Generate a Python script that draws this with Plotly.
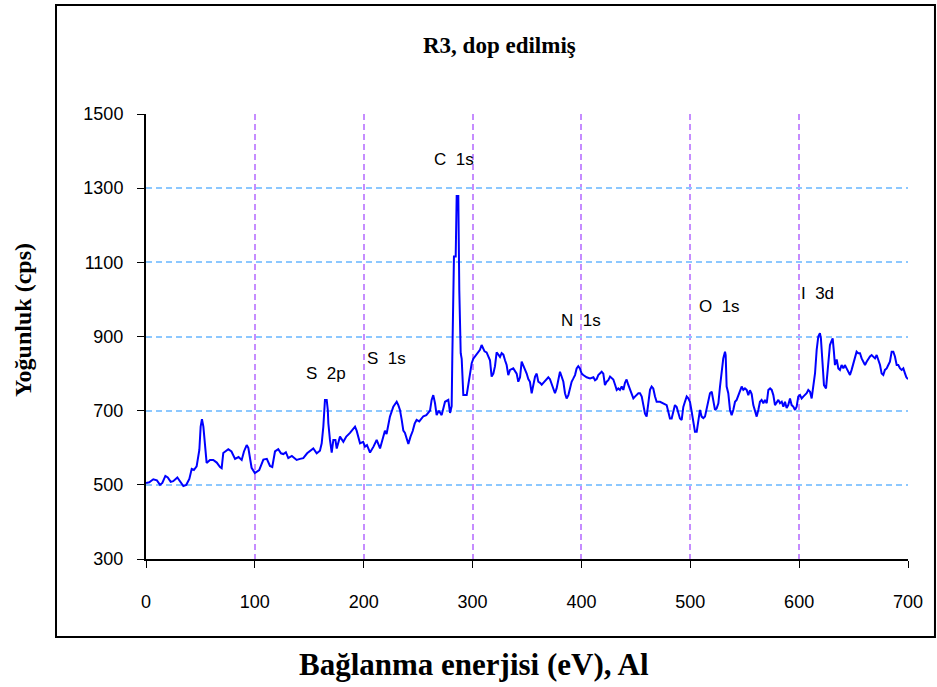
import plotly.graph_objects as go

# XPS survey spectrum: binding energy (eV) and counts per second
energy_ev = [
    0, 3, 6.7, 10, 12.9, 15, 17.8, 20, 22.7, 25, 28.8, 31, 34.3, 37, 39.8, 42, 44, 46.5,
    49, 50.2, 51.4, 52.7, 54.2, 55.7, 57, 58.8, 61.8, 65, 68, 69.5, 71, 73, 75.6, 78.5,
    81.8, 85, 87.9, 90, 92.5, 94, 95.5, 97, 100, 104, 107.8, 111, 113.9, 116, 118.5,
    121.5, 124, 126.2, 128.5, 130.7, 134, 138.4, 141.5, 144.5, 148, 150.7, 153.7, 156.8,
    159.8, 161.4, 162.9, 164.4, 166, 167, 167.5, 169, 170.6, 172.1, 174, 175.2, 176.8,
    178.2, 181.3, 184, 187.4, 189, 190.4, 192, 193.5, 195, 196.6, 199.5, 201.2, 203,
    205.8, 209, 211.9, 215, 218, 219.5, 221, 224.1, 227.2, 230.3, 231.8, 233.3, 234.9,
    236.4, 237.9, 239.5, 241, 243, 245, 246.8, 248.6, 251, 254.8, 257.5, 260.9, 262.4,
    263.9, 265.5, 267, 269, 271.6, 274.7, 277.7, 279.3, 280.8, 281.4, 282.9, 284.5,
    285.4, 286.9, 287.8, 289.1, 290, 291.5, 294.6, 296.1, 299.2, 300.7, 303.8, 306.8,
    308.3, 309.5, 311, 312.9, 314.5, 316, 317.5, 319.1, 320.6, 322.1, 323.7, 325.2,
    326.7, 328.3, 329.8, 331.3, 332.8, 334.4, 337.4, 340.5, 342, 343.6, 345.1, 346.6,
    348.2, 349.7, 351.2, 352.7, 354.3, 355.8, 357.4, 358.9, 360.4, 362, 363.5, 365,
    368.1, 369.6, 371.1, 374.2, 375.7, 377.2, 378.8, 380.3, 381.8, 383.4, 384.9, 386.4,
    388, 389.5, 391, 392.6, 394.1, 395.6, 397.1, 398.6, 400.2, 401.7, 404.8, 407.9, 411,
    412.5, 414, 415.5, 417, 418.6, 420.1, 421.6, 423.2, 424.7, 426.3, 427.8, 429.3,
    430.9, 432.4, 433.9, 435.4, 437, 438.5, 440, 441.5, 443, 444.6, 446.1, 447.7, 449.2,
    450.7, 452.3, 453.8, 455.4, 456.9, 458.4, 459.9, 461.5, 463, 464.5, 466, 467.6,
    469.1, 472.2, 475.2, 478.3, 479.8, 481.3, 482.9, 484.4, 485.9, 487.5, 489, 490.5,
    492.1, 493.6, 495.1, 496.7, 498.2, 499.7, 501.3, 502.8, 504.3, 505.9, 507.4, 508.9,
    510.4, 512, 513.5, 515, 516.6, 518.1, 519.7, 521.2, 522.7, 524.2, 525.8, 527.3,
    528.8, 530.3, 531.9, 532.5, 533.4, 534.9, 536.5, 538, 539.5, 541.1, 542.6, 544.1,
    545.7, 547.2, 548.7, 550.2, 551.8, 553.3, 554.8, 556.4, 557.9, 559.5, 561, 562.5,
    564, 565.5, 567.1, 568.6, 570.2, 571.7, 573.3, 574.8, 576.3, 577.8, 579.4, 580.9,
    582.4, 584, 585.5, 587, 588.5, 590, 591.6, 593.1, 594.6, 596.2, 597.7, 599.2, 600.8,
    602.3, 603.8, 605.4, 606.9, 608.4, 610, 611.5, 613, 614.6, 616.1, 617.6, 619.1, 620,
    621.6, 622.8, 624.7, 625.5, 626.8, 628.3, 629.5, 630.8, 631.9, 632.9, 634.5, 636,
    637.5, 639, 640.6, 642, 643.6, 645, 646.7, 648.2, 649.8, 651.3, 652.8, 654.3, 655.9,
    657.4, 658.9, 660.5, 662, 663.5, 665.1, 666.6, 668.1, 669.7, 671.2, 672.7, 674.3,
    675.8, 677.3, 678.8, 680.4, 681.9, 683.4, 685, 686.5, 688, 689.6, 691.1, 692.7,
    694.2, 695.7, 697.3, 698.5, 700,
]
intensity_cps = [
    505, 507, 515, 512, 500, 505, 524, 520, 508, 510, 520, 512, 497, 500, 516, 543, 540, 550,
    594, 657, 677, 657, 595, 559, 562, 567, 567, 560, 548, 545, 586, 590, 596, 590,
    570, 575, 567, 590, 607, 600, 570, 546, 532, 540, 568, 570, 551, 548, 590,
    596, 585, 583, 588, 572, 578, 567, 570, 572, 585, 592, 598, 585,
    592, 612, 657, 729, 729, 702, 666, 621, 587, 621, 621, 598, 616,
    630, 616, 630, 640, 646, 653, 657, 646, 630, 612, 616, 603, 607,
    587, 603, 621, 598, 630, 646, 637, 684, 711, 724, 715, 702, 675,
    646, 640, 621, 610, 630, 645, 665, 675, 671, 685, 688, 700, 729,
    742, 720, 688, 700, 688, 724, 729, 694, 712, 846, 1116, 1116,
    1279, 1279, 1025, 855, 840, 742, 742, 770, 828, 840, 853, 864,
    877, 870, 860, 857, 845, 836, 792, 800, 820, 857, 851, 845,
    855, 851, 836, 823, 796, 810, 814, 800, 778, 790, 832, 823,
    810, 800, 785, 778, 747, 770, 792, 800, 778, 775, 770, 775,
    785, 790, 785, 760, 747, 760, 782, 805, 792, 778, 747, 733,
    742, 765, 778, 787, 796, 814, 820, 814, 800, 796, 790, 787, 790,
    782, 785, 796, 801, 805, 800, 769, 778, 782, 792, 789, 784,
    770, 756, 760, 756, 765, 756, 775, 784, 770, 756, 742, 733, 738,
    742, 747, 747, 738, 715, 692, 684, 720, 756, 765, 760, 738,
    724, 724, 720, 715, 697, 679, 679, 697, 715, 710, 693, 679,
    675, 710, 724, 738, 733, 724, 697, 666, 643, 643, 670, 702,
    684, 680, 684, 702, 729, 747, 751, 729, 702, 706, 720, 765,
    801, 841, 859, 850, 765, 747, 702, 688, 702, 724, 729, 742,
    751, 765, 756, 760, 756, 742, 755, 745, 715, 695, 684, 702,
    724, 729, 720, 729, 720, 756, 760, 756, 742, 715, 724, 729,
    720, 724, 711, 724, 707, 715, 733, 715, 711, 702, 711, 738, 742,
    733, 738, 742, 747, 756, 751, 733, 760, 801, 864, 900, 909, 895,
    823, 769, 760, 790, 823, 877, 886, 895, 860, 823, 838, 814,
    810, 823, 814, 823, 814, 805, 796, 810, 828, 846, 859, 855, 855,
    841, 832, 823, 832, 841, 846, 850, 846, 841, 850, 837, 823,
    800, 796, 810, 814, 823, 832, 859, 859, 846, 823, 823, 814,
    810, 814, 800, 790, 785,
]

x_ticks = [0, 100, 200, 300, 400, 500, 600, 700]
y_ticks = [300, 500, 700, 900, 1100, 1300, 1500]

peak_names = ["S 2p", "S 1s", "C 1s", "N 1s", "O 1s", "I 3d"]

SERIF = "Liberation Serif, Times New Roman, serif"
SANS = "Liberation Sans, Arial, sans-serif"

fig = go.Figure()
fig.add_trace(go.Scatter(
    x=energy_ev, y=intensity_cps, mode="lines",
    line=dict(color="#0000FF", width=2),
    showlegend=False, hoverinfo="x+y",
))

# peak identification labels (energy, intensity anchor)
label_anchor = [(165, 800), (221, 842), (283, 1376), (400, 942), (527, 982), (617, 1015)]
for name, (ax_, ay_) in zip(peak_names, label_anchor):
    fig.add_annotation(
        x=ax_, y=ay_, text=name.replace(" ", "&nbsp;&nbsp;"), showarrow=False,
        xref="x", yref="y", xanchor="center", yanchor="middle",
        font=dict(family=SANS, size=17, color="#000000"),
    )

# chart title
fig.add_annotation(
    x=0.4633, y=1.155, xref="paper", yref="paper", showarrow=False,
    xanchor="center", yanchor="middle",
    text="<b>R3, dop edilmiş</b>",
    font=dict(family=SERIF, size=23, color="#000000"),
)

# axis titles
fig.add_annotation(
    x=0.4304, y=-0.2382, xref="paper", yref="paper", showarrow=False,
    xanchor="center", yanchor="middle",
    text="<b>Bağlanma enerjisi (eV), Al</b>",
    font=dict(family=SERIF, size=31, color="#000000"),
)
fig.add_annotation(
    x=-0.1614, y=0.537, xref="paper", yref="paper", showarrow=False, textangle=-90,
    xanchor="center", yanchor="middle",
    text="<b>Yoğunluk (cps)</b>",
    font=dict(family=SERIF, size=24, color="#000000"),
)

# chart frame
fig.add_shape(
    type="rect", xref="paper", yref="paper",
    x0=-0.1181, x1=1.0354, y0=-0.1753, y1=1.2449,
    line=dict(color="#000000", width=2), fillcolor="rgba(0,0,0,0)", layer="below",
)

fig.update_layout(
    width=937, height=687,
    margin=dict(l=146, r=29, t=114, b=128),
    paper_bgcolor="#FFFFFF", plot_bgcolor="#FFFFFF",
    xaxis=dict(
        range=[0, 700], tickvals=x_ticks, ticktext=[str(v) for v in x_ticks],
        showline=True, linecolor="#000000", linewidth=2,
        ticks="outside", ticklen=7, tickcolor="#000000", tickwidth=1,
        ticklabelstandoff=18,
        showgrid=True, gridcolor="#C58CFF", griddash="6px,4px", gridwidth=1.5,
        zeroline=False,
        tickfont=dict(family=SANS, size=18, color="#000000"),
    ),
    yaxis=dict(
        range=[300, 1500], tickvals=y_ticks, ticktext=[str(v) for v in y_ticks],
        showline=True, linecolor="#000000", linewidth=2,
        ticks="outside", ticklen=7, tickcolor="#000000", tickwidth=1,
        ticklabelstandoff=10,
        showgrid=True, gridcolor="#8CC8FF", griddash="6px,4px", gridwidth=1.5,
        zeroline=False,
        tickfont=dict(family=SANS, size=18, color="#000000"),
    ),
)

fig.write_html("out.html")
